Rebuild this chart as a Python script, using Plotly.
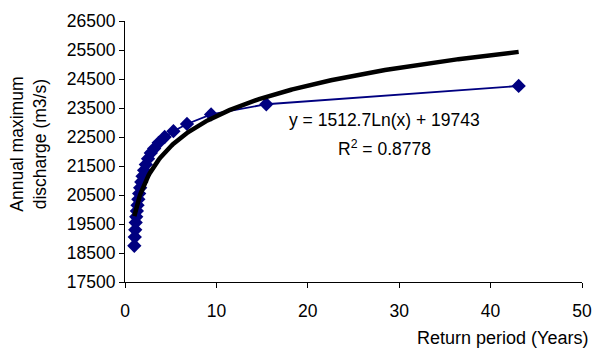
import numpy as np
import plotly.graph_objects as go

# Return periods (Gringorten plotting positions, n=24) and annual maximum discharges
return_period = [43.07, 15.46, 9.42, 6.78, 5.30, 4.34, 3.68, 3.19, 2.82, 2.52,
                 2.28, 2.09, 1.92, 1.78, 1.66, 1.55, 1.46, 1.37, 1.30, 1.23,
                 1.17, 1.12, 1.07, 1.02]
discharge = [24260, 23630, 23280, 22950, 22700, 22500, 22300, 22100, 21950, 21750,
             21550, 21350, 21150, 20950, 20750, 20550, 20350, 20150, 19950, 19750,
             19550, 19300, 19050, 18750]

# Logarithmic trendline coefficients (as printed on the chart)
trend_slope = 1512.7
trend_intercept = 19743
trend_label = "y = 1512.7Ln(x) + 19743"
r2_label = "R<sup>2</sup> = 0.8778"

x_ticks = [0, 10, 20, 30, 40, 50]
y_ticks = [17500, 18500, 19500, 20500, 21500, 22500, 23500, 24500, 25500, 26500]
y_tick_text = ["17500", "18500", "19500", "20500", "21500", "22500", "23500",
               "24500", "25500", "26500"]

FONT = "Liberation Sans, Arial, sans-serif"
FS = 17.5

xs = np.linspace(min(return_period), max(return_period), 300)
ys = trend_slope * np.log(xs) + trend_intercept

fig = go.Figure()
fig.add_trace(go.Scatter(
    x=return_period, y=discharge, mode="lines+markers",
    line=dict(color="#000080", width=1.8),
    marker=dict(symbol="diamond", size=11, color="#000080"),
    showlegend=False,
))
fig.add_trace(go.Scatter(
    x=xs, y=ys, mode="lines",
    line=dict(color="black", width=4.5),
    showlegend=False,
))

L, R, T, B = 125, 11, 16, 71
plot_w, plot_h = 603 - L - R, 353 - T - B


def px_to_paper(px, py):
    return (px - L) / plot_w, 1 - (py - T) / plot_h


ax, ay = px_to_paper(390, 117)
bx, by = px_to_paper(390, 145)
tx, ty = px_to_paper(27, 142)
rx, ry = px_to_paper(600, 339)

fig.update_layout(
    width=603, height=353,
    margin=dict(l=L, r=R, t=T, b=B),
    paper_bgcolor="white", plot_bgcolor="white",
    font=dict(family=FONT, size=FS, color="black"),
    xaxis=dict(range=[0, 50], tickvals=x_ticks, showgrid=False, zeroline=False,
               showline=True, linecolor="black", linewidth=1,
               ticks="outside", ticklen=5, tickcolor="black",
               ticklabelstandoff=8, tickfont=dict(size=FS)),
    yaxis=dict(range=[17500, 26500], tickvals=y_ticks, ticktext=y_tick_text,
               showgrid=False, zeroline=False,
               showline=True, linecolor="black", linewidth=1,
               ticks="outside", ticklen=5, tickcolor="black",
               tickfont=dict(size=FS)),
)
fig.add_annotation(text=trend_label, x=ax, y=ay, xref="paper", yref="paper",
                   xanchor="center", yanchor="middle", showarrow=False)
fig.add_annotation(text=r2_label, x=bx, y=by, xref="paper", yref="paper",
                   xanchor="center", yanchor="middle", showarrow=False)
fig.add_annotation(text="Annual maximum<br>discharge (m3/s)", x=tx, y=ty,
                   xref="paper", yref="paper", textangle=-90, showarrow=False,
                   xanchor="center", yanchor="middle")
fig.add_annotation(text="Return period (Years)", x=rx, y=ry,
                   xref="paper", yref="paper", xanchor="right", yanchor="middle",
                   showarrow=False, font=dict(size=18))

fig.write_html("out.html")
